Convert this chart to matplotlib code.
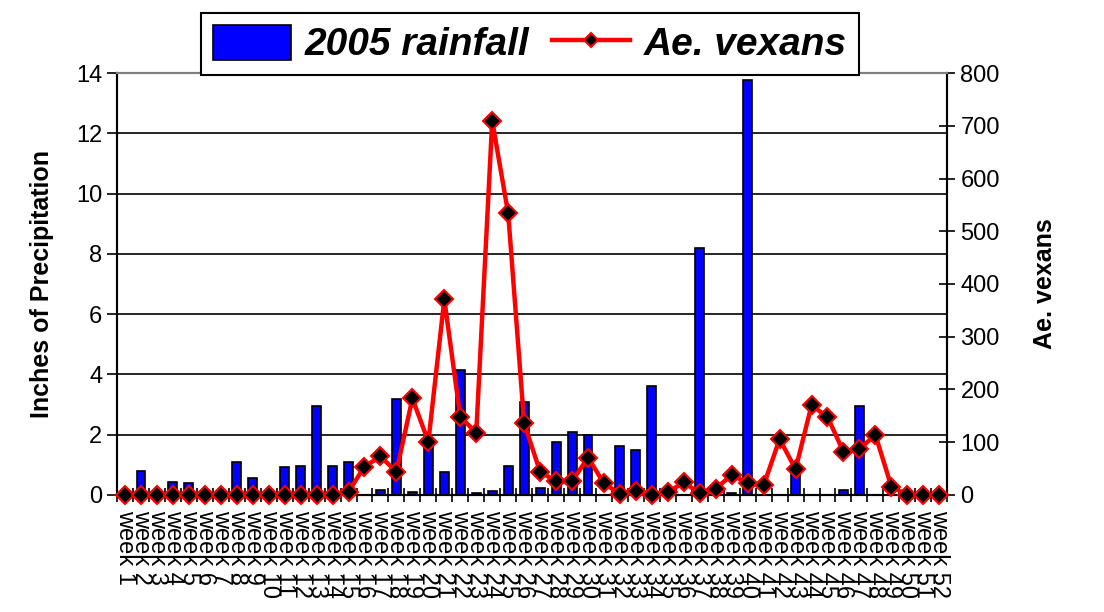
import matplotlib
matplotlib.use("Agg")
import matplotlib.pyplot as plt
import numpy as np

plt.rcParams['font.family'] = ['Liberation Sans', 'DejaVu Sans']

# weekly data, 2005
weeks = ["week %d" % i for i in range(1, 53)]

rainfall = [0, 0.78, 0, 0.44, 0.39, 0, 0, 1.1, 0.58, 0,
            0.92, 0.97, 2.96, 0.97, 1.1, 0, 0.17, 3.17, 0.11, 1.75,
            0.77, 4.15, 0.05, 0.12, 0.97, 3.1, 0.24, 1.77, 2.1, 1.98,
            0, 1.64, 1.49, 3.62, 0, 0, 8.18, 0, 0.05, 13.77,
            0, 0, 0.9, 0, 0, 0.17, 2.96, 0, 0, 0,
            0, 0]

vexans = [0, 0, 0, 0, 0, 0, 0, 0, 0, 0,
          0, 0, 0, 0, 6, 54, 73, 44, 183, 101,
          371, 148, 118, 709, 534, 136, 44, 26, 26, 71,
          22, 2, 8, 0, 5, 24, 3, 12, 38, 23,
          18, 106, 49, 170, 148, 82, 87, 114, 16, 0,
          0, 0]

x = np.arange(1, len(weeks) + 1)

fig = plt.figure(figsize=(11.04, 6.12), dpi=100)
ax = fig.add_axes([0.106, 0.1912, 0.752, 0.6895])
ax2 = ax.twinx()

bars = ax.bar(x, rainfall, width=0.56, color="#0000ff", edgecolor="black",
              linewidth=1.2, label="2005 rainfall", zorder=2)
line, = ax2.plot(x, vexans, color="#ff0000", lw=3.2, marker="D", ms=9,
                 mfc="black", mec="#ff0000", mew=1.5, label="Ae. vexans",
                 clip_on=False, zorder=3)

ax.set_xlim(0.5, 52.5)
ax.set_ylim(0, 14)
ax2.set_ylim(0, 800)
ax.set_yticks(np.arange(0, 15, 2))
ax2.set_yticks(np.arange(0, 801, 100))

# grid
ax.set_axisbelow(True)
ax.yaxis.grid(True, color="black", lw=1.2)

# x ticks: marks at week boundaries, labels at centers
ax.set_xticks(np.arange(0.5, 53, 1))
ax.set_xticklabels([])
ax.set_xticks(x, minor=True)
ax.set_xticklabels(weeks, minor=True, rotation=270, fontsize=17, va="top", ha="center")
ax.tick_params(axis="x", which="major", direction="inout", length=10, width=1.2)
ax.tick_params(axis="x", which="minor", length=0, pad=11)
ax2.tick_params(axis="x", which="both", length=0)

ax.tick_params(axis="y", direction="out", length=7, width=1.2, labelsize=17)
ax2.tick_params(axis="y", direction="inout", length=12, width=1.2, labelsize=17)

for a in (ax, ax2):
    a.spines["left"].set_color("black")
    a.spines["right"].set_color("black")
    a.spines["bottom"].set_color("black")
    a.spines["top"].set_color("#808080")
    for s in a.spines.values():
        s.set_linewidth(1.5)

ax.set_ylabel("Inches of Precipitation", fontsize=18, fontweight="bold", labelpad=16)
ax2.set_ylabel("Ae. vexans", fontsize=18, fontweight="bold", labelpad=24)

leg = fig.legend(handles=[bars, line], loc="center", bbox_to_anchor=(0.48, 0.928),
                 ncol=2, prop={"weight": "bold", "style": "italic", "size": 28},
                 frameon=True, fancybox=False, edgecolor="black", framealpha=1,
                 handlelength=2.0, handleheight=1.0, handletextpad=0.35,
                 columnspacing=0.6, borderpad=0.3, markerscale=0.8)
leg.get_frame().set_linewidth(1.5)

fig.savefig("out.png", dpi=100)
